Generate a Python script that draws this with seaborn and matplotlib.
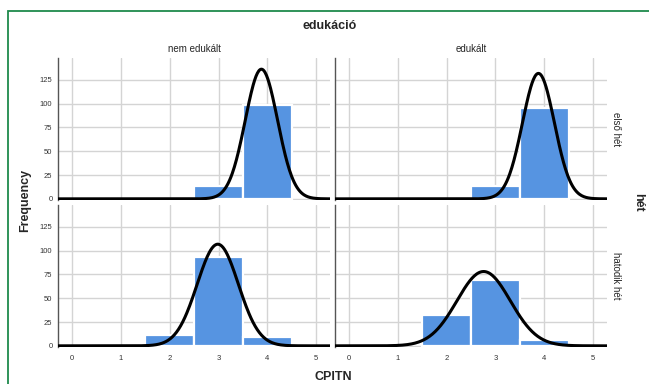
import numpy as np
import pandas as pd
import matplotlib
matplotlib.use("Agg")
import matplotlib.pyplot as plt
import seaborn as sns
from matplotlib.patches import Rectangle

# CPITN score categories and the counts
cpitn_values = [2, 3, 4]
nem_elso = [0, 14, 99]
edu_elso = [0, 13, 95]
nem_hatodik = [11, 93, 9]
edu_hatodik = [32, 69, 6]

col_order = ["nem edukált", "edukált"]
row_order = ["első hét", "hatodik hét"]
x_ticks = [0, 1, 2, 3, 4, 5]
y_ticks = [0, 25, 50, 75, 100, 125]

# build long table of individual observations
frames = []
for row, col, counts in [("első hét", "nem edukált", nem_elso),
                         ("első hét", "edukált", edu_elso),
                         ("hatodik hét", "nem edukált", nem_hatodik),
                         ("hatodik hét", "edukált", edu_hatodik)]:
    vals = np.repeat(cpitn_values, counts)
    frames.append(pd.DataFrame({"CPITN": vals, "hét": row, "edukáció": col}))
data = pd.concat(frames, ignore_index=True)

sns.set_style("white")
plt.rcParams["font.family"] = ["Liberation Sans", "DejaVu Sans"]

bar_color = "#5694E1"


def hist_with_normal(data, color=None, **kws):
    ax = plt.gca()
    sns.histplot(data=data, x="CPITN", discrete=True, color=bar_color,
                 alpha=1, edgecolor="white", linewidth=1.6, ax=ax, zorder=2)
    # normal curve fitted to the panel's data, scaled to counts (bin width 1)
    n = len(data)
    mu = data["CPITN"].mean()
    sd = data["CPITN"].std()
    xs = np.linspace(-0.35, 5.35, 400)
    ys = n / (sd * np.sqrt(2 * np.pi)) * np.exp(-0.5 * ((xs - mu) / sd) ** 2)
    ax.plot(xs, ys, color="black", lw=2.2, zorder=3, solid_capstyle="butt")


g = sns.FacetGrid(data, row="hét", col="edukáció", row_order=row_order,
                  col_order=col_order, sharex=True, sharey=True,
                  height=1.5, aspect=1.9, despine=False)
g.map_dataframe(hist_with_normal)
g.figure.set_size_inches(6.49, 3.84)
g.figure.set_dpi(100)
g.figure.subplots_adjust(left=0.0894, right=0.935, bottom=0.0964, top=0.849,
                         wspace=0.018, hspace=0.035)
g.set_titles("")
g.set_axis_labels("", "")

for ax in g.axes.flat:
    ax.set_xlim(-0.29, 5.28)
    ax.set_ylim(-1.2, 148)
    ax.set_xticks(x_ticks)
    ax.set_yticks(y_ticks)
    ax.grid(True, color="#d4d4d4", lw=1.0, zorder=0)
    ax.set_axisbelow(True)
    for s in ["top", "right", "bottom"]:
        ax.spines[s].set_visible(False)
    ax.spines["left"].set_color("#555555")
    ax.spines["left"].set_linewidth(1.0)
    ax.tick_params(axis="both", length=0, labelsize=5.5, colors="#333333")
    ax.tick_params(axis="x", pad=6)
    ax.tick_params(axis="y", pad=4)
    ax.set_xlabel("")
    ax.set_ylabel("")

fig = g.figure
W, H = 649, 384


def fx(px):
    return px / W


def fy(py):
    return 1 - py / H


fig.text(fx(330), fy(26), "edukáció", ha="center", va="center",
         fontsize=9, fontweight="bold")
fig.text(fx(194), fy(49), col_order[0], ha="center", va="center", fontsize=7)
fig.text(fx(471), fy(49), col_order[1], ha="center", va="center", fontsize=7)
fig.text(fx(616), fy(129), row_order[0], ha="center", va="center",
         fontsize=7, rotation=-90)
fig.text(fx(616), fy(276), row_order[1], ha="center", va="center",
         fontsize=7, rotation=-90)
fig.text(fx(638), fy(202), "hét", ha="center", va="center",
         fontsize=9, fontweight="bold", rotation=-90)
fig.text(fx(25), fy(200), "Frequency", ha="center", va="center",
         fontsize=9, fontweight="bold", rotation=90)
fig.text(fx(333), fy(377), "CPITN", ha="center", va="center",
         fontsize=9, fontweight="bold")

# green frame around the chart, running off the right and bottom edges
fig.patches.append(Rectangle((fx(8), -0.05), 1.2, fy(11) + 0.05,
                             transform=fig.transFigure, fill=False,
                             edgecolor="#1f8a4c", lw=1.3))

fig.savefig("out.png", dpi=100)
